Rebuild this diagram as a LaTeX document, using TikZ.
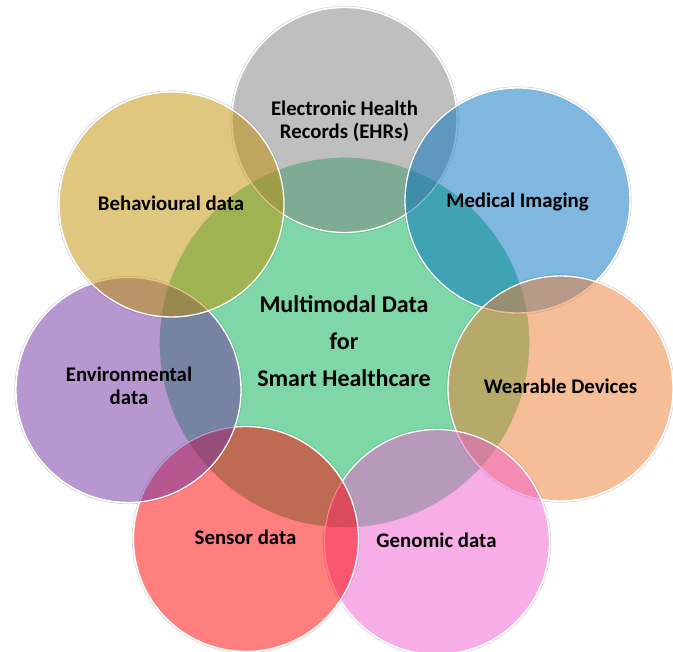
\documentclass[tikz,border=0pt]{standalone}
\usepackage{fontspec}
\setmainfont{Carlito}
\definecolor{cgreen}{HTML}{00B050}
\definecolor{cgray}{HTML}{7F7F7F}
\definecolor{cblue}{HTML}{0070C0}
\definecolor{corange}{HTML}{ED7D31}
\definecolor{cpink}{HTML}{EF5BCD}
\definecolor{cred}{HTML}{FF0000}
\definecolor{cpurple}{HTML}{7030A0}
\definecolor{cgold}{HTML}{BF8F00}
\tikzset{
  bubble/.style={circle, inner sep=0pt, minimum size=225pt, fill=#1, fill opacity=0.5,
                 draw=white, draw opacity=1, line width=1.3pt},
  hub/.style={circle, inner sep=0pt, minimum size=371pt, fill=#1, fill opacity=0.5,
              draw=white, draw opacity=1, line width=1.3pt},
  ring/.style={draw=gray!35, line width=0.6pt},
  lbl/.style={anchor=base, inner sep=0pt, text=black, font=\bfseries\fontsize{20.8}{23}\selectfont},
  hublbl/.style={anchor=base, inner sep=0pt, text=black, font=\bfseries\fontsize{24}{37}\selectfont}
}
\begin{document}
\begin{tikzpicture}[x=1pt, y=-1pt]
\useasboundingbox (0,0) rectangle (673,652);
% faint outer rings
\foreach \p in {(344.5,120),(517.5,200.5),(560.5,388.5),(437,542),(246,539),(128.5,390),(171.5,204.5)}
  \draw[ring] \p circle (113.8pt);
% central circle
\node[hub=cgreen] (hub) at (344.5,342.5) {};
% satellites, clockwise from top
\node[bubble=cgray]   (ehr) at (344.5,120) {};
\node[bubble=cblue]   (med) at (517.5,200.5) {};
\node[bubble=corange] (wear) at (560.5,388.5) {};
\node[bubble=cpink]   (gen) at (437,542) {};
\node[bubble=cred]    (sen) at (246,539) {};
\node[bubble=cpurple] (env) at (128.5,390) {};
\node[bubble=cgold]   (beh) at (171.5,204.5) {};
% labels
\node[hublbl] (hubl) at (344,313) {\begin{tabular}[t]{@{}c@{}}Multimodal Data\\for\\Smart Healthcare\end{tabular}};
\node[lbl] (ehrl) at (344.5,116) {\begin{tabular}[t]{@{}c@{}}Electronic Health\\Records (EHRs)\end{tabular}};
\node[lbl] (medl) at (517.5,208) {Medical Imaging};
\node[lbl] (wearl) at (560.5,394) {Wearable Devices};
\node[lbl] (genl) at (436.5,548) {Genomic data};
\node[lbl] (senl) at (245.5,545) {Sensor data};
\node[lbl] (envl) at (129,382) {\begin{tabular}[t]{@{}c@{}}Environmental\\data\end{tabular}};
\node[lbl] (behl) at (171,211) {Behavioural data};
\end{tikzpicture}
\end{document}
